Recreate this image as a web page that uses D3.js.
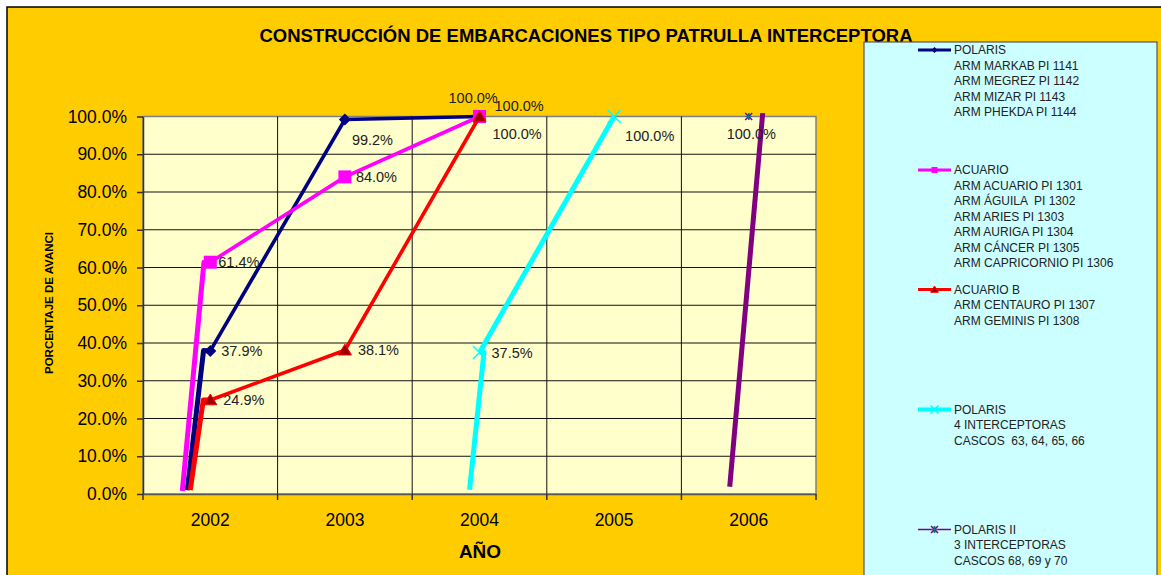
<!DOCTYPE html>
<html lang="es">
<head>
<meta charset="UTF-8">
<title>Construcción de embarcaciones</title>
<script src="https://cdn.jsdelivr.net/npm/d3@7/dist/d3.min.js"></script>
<style>
  body { margin: 0; background: #fff; }
  svg { display: block; font-family: "Liberation Sans", Arial, sans-serif; }
  .lbl { fill: #222; font-size: 14.5px; }
  .leg text { fill: #222; font-size: 12px; white-space: pre; }
</style>
</head>
<body>
<script>
// categorias y valores (fraccion de avance)
const years = ['2002', '2003', '2004', '2005', '2006'];
const polaris   = [0.379, 0.992, 1.000, null, null];
const acuario   = [0.614, 0.840, 1.000, null, null];
const acuarioB  = [0.249, 0.381, 1.000, null, null];
const polaris4  = [null, null, 0.375, 1.000, null];
const polaris2  = [null, null, null, null, 1.000];
const yTicks = [0, 0.1, 0.2, 0.3, 0.4, 0.5, 0.6, 0.7, 0.8, 0.9, 1.0];

// tramos de arranque dibujados a mano: [desfase en anios respecto al anio, avance]
const polarisRise  = [[-0.171, 0.010], [-0.050, 0.380]];
const acuarioRise  = [[-0.208, 0.008], [-0.047, 0.614]];
const acuarioBRise = [[-0.149, 0.010], [-0.052, 0.249]];
const polaris4Rise = [[-0.074, 0.011], [0.033, 0.375]];
const polaris2Rise = [[-0.141, 0.019], [0.104, 1.009]];

const W = 1161, H = 575;
const plot = { left: 143, right: 816, top: 116.5, bottom: 494 };

const svg = d3.select('body').append('svg')
  .attr('width', W).attr('height', H);

// fondo del grafico
svg.append('rect').attr('x', 7).attr('y', 7).attr('width', W).attr('height', H)
  .attr('fill', '#FFCC00').attr('stroke', '#000').attr('stroke-width', 1.5);

const x = d3.scaleLinear().domain([-0.5, years.length - 0.5]).range([plot.left, plot.right]);
const xBand = d3.scaleBand().domain(years).range([plot.left, plot.right]);
const y = d3.scaleLinear().domain([0, 1]).range([plot.bottom, plot.top]);

svg.append('rect')
  .attr('x', plot.left).attr('y', plot.top)
  .attr('width', plot.right - plot.left).attr('height', plot.bottom - plot.top)
  .attr('fill', '#FFFFCC').attr('stroke', '#808080').attr('stroke-width', 1.5);

// rejilla
svg.append('g').selectAll('line').data(yTicks.slice(1, -1)).join('line')
  .attr('x1', plot.left).attr('x2', plot.right)
  .attr('y1', d => y(d)).attr('y2', d => y(d))
  .attr('stroke', '#111').attr('stroke-width', 1);
svg.append('g').selectAll('line').data(d3.range(1, years.length)).join('line')
  .attr('x1', d => x(d - 0.5)).attr('x2', d => x(d - 0.5))
  .attr('y1', plot.top).attr('y2', plot.bottom)
  .attr('stroke', '#111').attr('stroke-width', 1);

// ejes
const yAxis = d3.axisLeft(y).tickValues(yTicks).tickFormat(d3.format('.1%'))
  .tickSizeInner(6).tickSizeOuter(0).tickPadding(10);
const gy = svg.append('g').attr('transform', `translate(${plot.left},0)`).call(yAxis);
gy.selectAll('text').attr('font-size', 17.5).attr('fill', '#000').attr('font-family', null);
gy.selectAll('line, path').attr('stroke', '#333').attr('stroke-width', 1.5);

const gx = svg.append('g').attr('transform', `translate(0,${plot.bottom})`)
  .call(d3.axisBottom(xBand).tickSize(0).tickPadding(20));
gx.selectAll('text').attr('font-size', 17.5).attr('fill', '#000').attr('font-family', null);
gx.select('path').attr('stroke', '#555').attr('stroke-width', 1.5);
gx.selectAll('.bound').data(d3.range(0, years.length + 1)).join('line')
  .attr('class', 'bound')
  .attr('x1', d => x(d - 0.5)).attr('x2', d => x(d - 0.5))
  .attr('y1', 0).attr('y2', 6).attr('stroke', '#333').attr('stroke-width', 1.5);

// titulos
svg.append('text').attr('x', 586).attr('y', 41.5).attr('text-anchor', 'middle')
  .attr('font-size', 18.5).attr('font-weight', 'bold')
  .text('CONSTRUCCIÓN DE EMBARCACIONES TIPO PATRULLA INTERCEPTORA');
svg.append('text').attr('x', 480).attr('y', 558).attr('text-anchor', 'middle')
  .attr('font-size', 19).attr('font-weight', 'bold').text('AÑO');
svg.append('text').attr('transform', 'translate(53,303) rotate(-90)')
  .attr('text-anchor', 'middle').attr('font-size', 11.5).attr('font-weight', 'bold')
  .text('PORCENTAJE DE AVANCI');

// series
const series = [
  { name: 'polaris', vals: polaris, rise: polarisRise, color: '#000080', marker: 'diamond',
    labels: [[11, 0], [7, 20], [-31, -19]] },
  { name: 'acuario', vals: acuario, rise: acuarioRise, color: '#FF00FF', marker: 'square',
    labels: [[8, 0], [11, 0], [15, -11]] },
  { name: 'acuarioB', vals: acuarioB, rise: acuarioBRise, color: '#FF0000', marker: 'triangle',
    labels: [[13, 0], [13, 0], [13, 17]] },
  { name: 'polaris4', vals: polaris4, rise: polaris4Rise, color: '#00FFFF', marker: 'x',
    labels: [[12, 0], [11, 19]], small: true },
  { name: 'polaris2', vals: polaris2, rise: polaris2Rise, color: '#800080', marker: 'star',
    labels: [[-22, 17]], noLine: true }
];

function markerPath(type, s) {
  if (type === 'diamond') return `M0,${-s}L${s},0L0,${s}L${-s},0Z`;
  if (type === 'square') return `M${-s},${-s}H${s}V${s}H${-s}Z`;
  if (type === 'triangle') return `M0,${-s}L${s * 1.1},${s * 0.8}L${-s * 1.1},${s * 0.8}Z`;
  if (type === 'x') return `M${-s},${-s}L${s},${s}M${s},${-s}L${-s},${s}`;
  return `M${-s},${-s}L${s},${s}M${s},${-s}L${-s},${s}M0,${-s}V${s}`;
}

function drawMarker(g, type, color, px, py, s) {
  const p = g.append('path').attr('transform', `translate(${px},${py})`).attr('d', markerPath(type, s));
  if (type === 'x') {
    p.attr('fill', 'none').attr('stroke', color).attr('stroke-width', 1.5);
  } else if (type === 'star') {
    p.attr('fill', 'none').attr('stroke', color).attr('stroke-width', 1.5);
    g.append('path').attr('transform', `translate(${px},${py})`)
      .attr('d', `M${-s},0H${s}M0,${-s}V${s}`)
      .attr('stroke', '#008080').attr('stroke-width', 1.2);
  } else if (type === 'triangle') {
    p.attr('fill', '#990000').attr('stroke', '#FF0000').attr('stroke-width', 1);
  } else {
    p.attr('fill', color);
  }
}

const line = d3.line().x(d => x(d[0])).y(d => y(d[1]));
const fmt = d3.format('.1%');

series.forEach(s => {
  const g = svg.append('g');
  const pts = s.vals.map((v, i) => v == null ? null : [i, v]).filter(Boolean);
  const i0 = pts[0][0];
  // tramo de arranque
  const risePts = s.rise.map(r => [i0 + r[0], r[1]]);
  if (!s.noLine) risePts.push(pts[0]);
  g.append('path').attr('d', line(risePts)).attr('fill', 'none')
    .attr('stroke', s.color).attr('stroke-width', 5).attr('stroke-linejoin', 'round');
  if (!s.noLine && pts.length > 1) {
    g.append('path').attr('d', line(pts)).attr('fill', 'none')
      .attr('stroke', s.color).attr('stroke-width', s.small ? 5 : 3.6);
  }
  s.g = g;
  s.pts = pts;
});

series.forEach(s => {
  const size = { diamond: 6, square: 6.5, triangle: 6, x: 6.5, star: 3.5 }[s.marker];
  s.pts.forEach(p => drawMarker(s.g, s.marker, s.color, x(p[0]), y(p[1]), size));
});

series.forEach(s => {
  s.pts.forEach((p, k) => {
    const off = s.labels[k];
    svg.append('text').attr('class', 'lbl')
      .attr('x', x(p[0]) + off[0]).attr('y', y(p[1]) + off[1]).attr('dy', '0.35em')
      .attr('font-size', s.small ? 12.5 : 14.5)
      .text(fmt(p[1]));
  });
});

// leyenda
const legendRows = [
  { key: 'polaris', top: 50, lines: ['POLARIS', 'ARM MARKAB PI 1141', 'ARM MEGREZ PI 1142', 'ARM MIZAR PI 1143', 'ARM PHEKDA PI 1144'] },
  { key: 'acuario', top: 170, lines: ['ACUARIO', 'ARM ACUARIO PI 1301', 'ARM ÁGUILA  PI 1302', 'ARM ARIES PI 1303', 'ARM AURIGA PI 1304', 'ARM CÁNCER PI 1305', 'ARM CAPRICORNIO PI 1306'] },
  { key: 'acuarioB', top: 289.5, lines: ['ACUARIO B', 'ARM CENTAURO PI 1307', 'ARM GEMINIS PI 1308'] },
  { key: 'polaris4', top: 409.5, lines: ['POLARIS', '4 INTERCEPTORAS', 'CASCOS  63, 64, 65, 66'] },
  { key: 'polaris2', top: 529.5, lines: ['POLARIS II', '3 INTERCEPTORAS', 'CASCOS 68, 69 y 70'] }
];

const leg = svg.append('g').attr('class', 'leg');
leg.append('rect').attr('x', 864).attr('y', 42).attr('width', 293).attr('height', 560)
  .attr('fill', '#CCFFFF').attr('stroke', '#555').attr('stroke-width', 1.2);

legendRows.forEach(r => {
  const s = series.find(d => d.name === r.key);
  const lw = { polaris: 3, acuario: 3, acuarioB: 3, polaris4: 4, polaris2: 1.5 }[r.key];
  leg.append('line').attr('x1', 918).attr('x2', 951).attr('y1', r.top).attr('y2', r.top)
    .attr('stroke', s.color).attr('stroke-width', lw);
  const ms = { diamond: 3, square: 3, triangle: 3.5, x: 4, star: 3.5 }[s.marker];
  drawMarker(leg, s.marker, s.color, 934.5, r.top, ms);
  leg.append('text').attr('x', 954).attr('y', r.top)
    .selectAll('tspan').data(r.lines).join('tspan')
    .attr('x', 954).attr('dy', (d, i) => i === 0 ? '0.35em' : 15.5)
    .text(d => d);
});
</script>
</body>
</html>
